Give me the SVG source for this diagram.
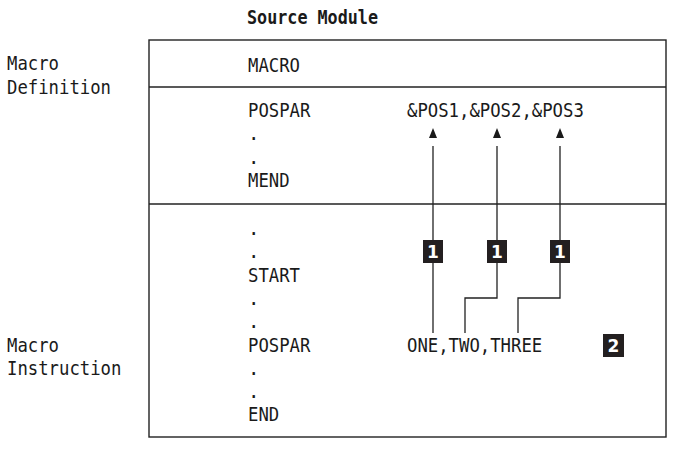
<svg xmlns="http://www.w3.org/2000/svg" width="675" height="449" viewBox="0 0 675 449">
<style>
  .t { font-family: "DejaVu Sans Mono", "Liberation Mono", monospace; font-size: 19px; fill: #1a1a1a; }
  .title { font-family: "DejaVu Sans Mono", "Liberation Mono", monospace; font-size: 19px; font-weight: bold; fill: #1a1a1a; }
  .frame { fill: none; stroke: #222; stroke-width: 1.4; }
  .conn { fill: none; stroke: #222; stroke-width: 1.3; }
  .arrowhead { fill: #1a1a1a; }
  .badge rect { fill: #231f20; }
  .badge text { font-family: "DejaVu Sans", "Liberation Sans", sans-serif; font-size: 17px; font-weight: bold; fill: #fff; text-anchor: middle; }
</style>
<rect width="675" height="449" fill="#fff"/>

<g id="title">
  <text class="title" x="247" y="24" textLength="131" lengthAdjust="spacingAndGlyphs">Source Module</text>
</g>

<g id="frame">
  <rect class="frame" x="149" y="40" width="517" height="397"/>
  <line class="frame" x1="149" y1="87" x2="666" y2="87"/>
  <line class="frame" x1="149" y1="204" x2="666" y2="204"/>
</g>

<g id="label-definition">
  <text class="t" x="7" y="70" textLength="52" lengthAdjust="spacingAndGlyphs">Macro</text>
  <text class="t" x="7" y="94" textLength="104" lengthAdjust="spacingAndGlyphs">Definition</text>
</g>
<g id="label-instruction">
  <text class="t" x="7" y="352" textLength="52" lengthAdjust="spacingAndGlyphs">Macro</text>
  <text class="t" x="7" y="375" textLength="114.4" lengthAdjust="spacingAndGlyphs">Instruction</text>
</g>

<g id="macro-header">
  <text class="t" x="248" y="72" textLength="52" lengthAdjust="spacingAndGlyphs">MACRO</text>
</g>

<g id="macro-body">
  <text class="t" x="248" y="117" textLength="62.4" lengthAdjust="spacingAndGlyphs">POSPAR</text>
  <text class="t" x="407" y="117" textLength="176.8" lengthAdjust="spacingAndGlyphs">&amp;POS1,&amp;POS2,&amp;POS3</text>
  <text class="t" x="248" y="140">.</text>
  <text class="t" x="248" y="164">.</text>
  <text class="t" x="248" y="187" textLength="41.6" lengthAdjust="spacingAndGlyphs">MEND</text>
</g>

<g id="main-program">
  <text class="t" x="248" y="235">.</text>
  <text class="t" x="248" y="258">.</text>
  <text class="t" x="248" y="282" textLength="52" lengthAdjust="spacingAndGlyphs">START</text>
  <text class="t" x="248" y="305">.</text>
  <text class="t" x="248" y="328">.</text>
  <text class="t" x="248" y="352" textLength="62.4" lengthAdjust="spacingAndGlyphs">POSPAR</text>
  <text class="t" x="407" y="352" textLength="135.2" lengthAdjust="spacingAndGlyphs">ONE,TWO,THREE</text>
  <text class="t" x="248" y="375">.</text>
  <text class="t" x="248" y="398">.</text>
  <text class="t" x="248" y="421" textLength="31.2" lengthAdjust="spacingAndGlyphs">END</text>
</g>

<g id="connectors">
  <polyline class="conn" points="433,146 433,333"/>
  <polyline class="conn" points="497,146 497,298 465,298 465,333"/>
  <polyline class="conn" points="560,146 560,298 518,298 518,333"/>
  <polygon class="arrowhead" points="433,128 429,138 437,138"/>
  <polygon class="arrowhead" points="497,128 493,138 501,138"/>
  <polygon class="arrowhead" points="560,128 556,138 564,138"/>
</g>

<g id="badge-1a" class="badge">
  <rect x="423" y="240" width="20" height="23"/>
  <text x="433" y="258">1</text>
</g>
<g id="badge-1b" class="badge">
  <rect x="487" y="240" width="20" height="23"/>
  <text x="497" y="258">1</text>
</g>
<g id="badge-1c" class="badge">
  <rect x="550" y="240" width="20" height="23"/>
  <text x="560" y="258">1</text>
</g>
<g id="badge-2" class="badge">
  <rect x="603" y="334" width="21" height="23"/>
  <text x="613.5" y="352">2</text>
</g>
</svg>
